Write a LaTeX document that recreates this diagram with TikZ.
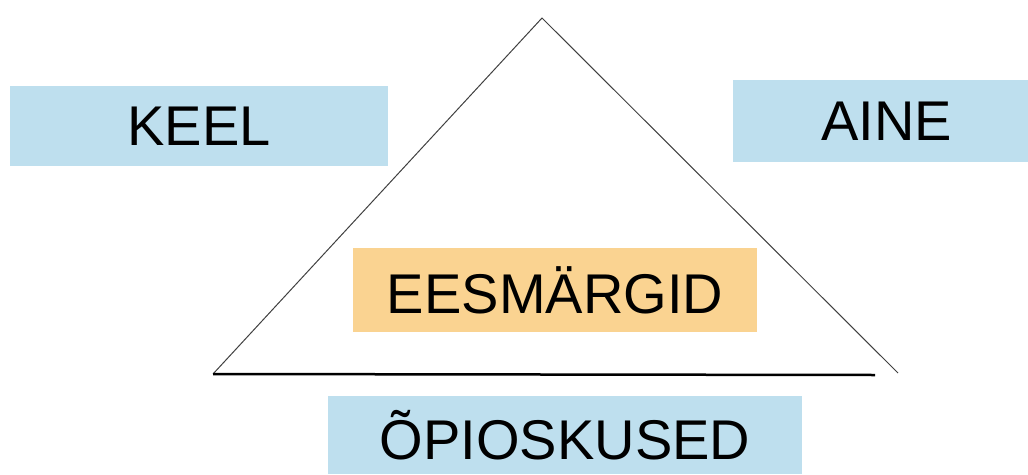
\documentclass[tikz,border=0pt]{standalone}
\usepackage{fontspec}
\setmainfont{Liberation Sans}
\usetikzlibrary{positioning}
\definecolor{lightblue}{RGB}{190,223,238}
\definecolor{lightorange}{RGB}{250,211,145}

\begin{document}
\begin{tikzpicture}[x=1pt, y=-1pt,
	label box/.style={rectangle, inner sep=0pt, font=\fontsize{56}{60}\selectfont},
	side/.style={line width=1pt, black!75},
	base/.style={line width=2.5pt, black}]
	\useasboundingbox (0,0) rectangle (1028,474);
	% boxes
	\node[label box, fill=lightblue, minimum width=378pt, minimum height=80pt] (keel) at (199,126) {KEEL};
	\node[label box, fill=lightblue, minimum width=295pt, minimum height=82pt] (aine) at (880.5,121) {\hspace*{12pt}AINE};
	\node[label box, fill=lightorange, minimum width=404pt, minimum height=84pt] (eesmargid) at (555,290) {EESMÄRGID};
	\node[label box, fill=lightblue, minimum width=474pt, minimum height=78pt] (opioskused) at (565,435) {ÕPIOSKUSED};
	% triangle
	\coordinate (apex) at (542,18);
	\coordinate (left) at (213,374);
	\coordinate (right) at (898,373);
	\coordinate (base end) at (875,375);
	\draw[side] (left) -- (apex) -- (right);
	\draw[base] (left) -- (base end);
\end{tikzpicture}
\end{document}
